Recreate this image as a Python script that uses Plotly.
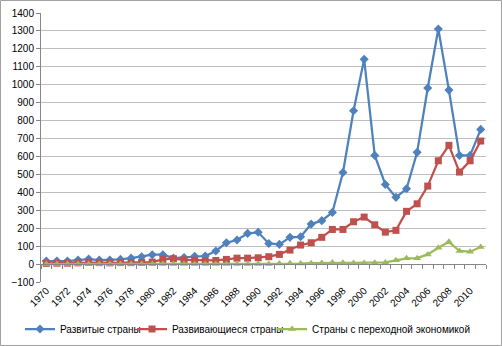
import plotly.graph_objects as go

years = list(range(1970, 2012))

developed = [17, 17, 17, 22, 28, 22, 22, 26, 33, 41,
             52, 52, 33, 37, 43, 45, 73, 119, 134, 171,
             177, 115, 110, 149, 152, 223, 242, 288, 511, 855,
             1142, 606, 444, 372, 420, 623, 982, 1311, 970, 606,
             606, 751]

developing = [4, 5, 5, 7, 10, 8, 7, 8, 8, 9,
              11, 26, 30, 24, 22, 18, 20, 26, 33, 33,
              35, 41, 54, 78, 106, 119, 149, 193, 193, 236,
              262, 219, 178, 188, 294, 336, 435, 576, 662, 513,
              576, 686]

transition = [0, 0, 0, 0, 0, 0, 0, 0, 0, 0,
              0, 0, 0, 0, 0, 0, 0, 0, 0, 0,
              0, 1, 3, 4, 3, 5, 6, 9, 7, 6,
              6, 7, 9, 21, 32, 33, 54, 91, 124, 73,
              69, 95]

tick_years = list(range(1970, 2012, 2))

names = ["Развитые страны", "Развивающиеся страны", "Страны с переходной экономикой"]
colors = ["#4F81BD", "#C0504D", "#9BBB59"]
symbols = ["diamond", "square", "triangle-up"]
legends = ["legend", "legend2", "legend3"]
legend_x = [0.0398, 0.263, 0.542]

font = "Liberation Sans, Arial, sans-serif"

fig = go.Figure()
for vals, name, col, sym, lg in zip([developed, developing, transition], names, colors, symbols, legends):
    fig.add_trace(go.Scatter(
        x=years, y=vals, name=name, mode="lines+markers", legend=lg,
        line=dict(color=col, width=2.25),
        marker=dict(symbol=sym, size=7, color=col),
    ))

# invisible trace for the secondary (zero-crossing) axis
fig.add_trace(go.Scatter(x=[years[0]], y=[0], xaxis="x2", mode="markers",
                         marker=dict(opacity=0), showlegend=False, hoverinfo="skip"))

legend_common = dict(orientation="h", xref="container", yref="container",
                     xanchor="left", y=0.049, yanchor="middle",
                     font=dict(size=10, family=font), bgcolor="rgba(0,0,0,0)")

fig.update_layout(
    width=502, height=346,
    margin=dict(l=41, r=16, t=13, b=64),
    paper_bgcolor="white", plot_bgcolor="white",
    font=dict(family=font, size=10, color="#000000"),
    showlegend=True,
    legend=dict(x=legend_x[0], **legend_common),
    legend2=dict(x=legend_x[1], **legend_common),
    legend3=dict(x=legend_x[2], **legend_common),
    xaxis=dict(range=[1969.5, 2011.5], tickvals=tick_years, ticktext=[str(y) for y in tick_years],
               tickangle=-45, showgrid=False, zeroline=False, showline=False, ticks="",
               tickfont=dict(size=10), automargin=False),
    xaxis2=dict(range=[1969.5, 2011.5], overlaying="x", anchor="free", position=1/15,
                showline=True, linecolor="#868686", linewidth=1,
                tickvals=[y - 0.5 for y in years] + [2011.5], ticks="outside", ticklen=4,
                tickcolor="#868686", showticklabels=False, showgrid=False, zeroline=False,
                automargin=False),
    yaxis=dict(range=[-100, 1400], dtick=100, showgrid=True, gridcolor="#BFBFBF", gridwidth=1,
               zeroline=False, showline=True, linecolor="#868686", ticks="outside",
               ticklen=4, tickcolor="#868686", tickfont=dict(size=10), automargin=False),
    shapes=[dict(type="rect", xref="paper", yref="paper",
                 x0=-0.091, x1=1.0348, y0=-0.236, y1=1.0465,
                 line=dict(color="#A0A0A0", width=1), fillcolor="rgba(0,0,0,0)")],
)

fig.write_html("out.html", config={"displayModeBar": False},
               post_script="document.body.style.margin='0px';document.body.style.overflow='hidden';")
